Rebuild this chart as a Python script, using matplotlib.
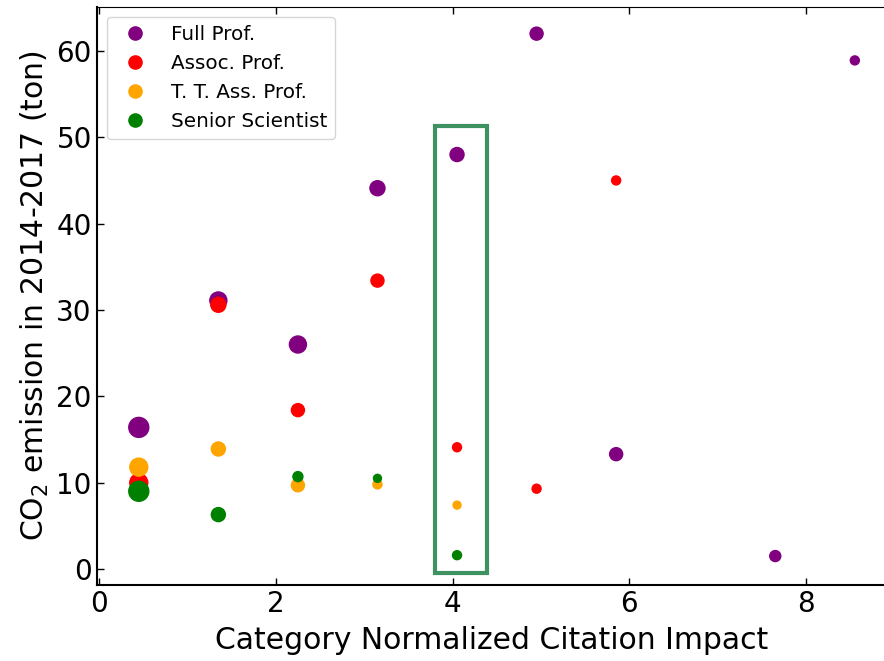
import numpy as np
import matplotlib
matplotlib.use("Agg")
from matplotlib import pyplot as plt
from matplotlib.patches import Rectangle
from matplotlib.lines import Line2D

# CNCI bins (bin centres) and CO2 emission per position
full_x = [0.45, 1.35, 2.25, 3.15, 4.05, 4.95, 5.85, 7.65, 8.55]
full_y = [16.4, 31.1, 26.0, 44.1, 48.0, 62.0, 13.3, 1.5, 58.9]
full_n = [207, 150, 150, 117, 102, 88, 88, 63, 42]

assoc_x = [0.45, 1.35, 2.25, 3.15, 4.05, 4.95, 5.85]
assoc_y = [10.0, 30.6, 18.4, 33.4, 14.1, 9.3, 45.0]
assoc_n = [168, 117, 88, 88, 42, 42, 42]

tt_x = [0.45, 1.35, 2.25, 3.15, 4.05]
tt_y = [11.8, 13.9, 9.7, 9.8, 7.4]
tt_n = [168, 102, 88, 42, 33]

senior_x = [0.45, 1.35, 2.25, 3.15, 4.05]
senior_y = [9.0, 6.3, 10.7, 10.5, 1.6]
senior_n = [207, 102, 52, 33, 42]

labels = ['Full Prof.', 'Assoc. Prof.', 'T. T. Ass. Prof.', 'Senior Scientist']
colors = ['purple', 'red', 'orange', 'green']


def main():
    fig = plt.figure(figsize=(8.84, 6.61), dpi=100)
    ax = fig.add_axes([0.1094, 0.115, 0.8926, 0.8746])

    series = [(full_x, full_y, full_n), (assoc_x, assoc_y, assoc_n),
              (tt_x, tt_y, tt_n), (senior_x, senior_y, senior_n)]
    for (x, y, n), c in zip(series, colors):
        ax.scatter(x, y, s=n, c=c, zorder=3)

    # highlight the CNCI ~ 4 bin
    ax.add_patch(Rectangle((3.80, -0.5), 0.59, 51.8, fill=False,
                           edgecolor='#3E9160', linewidth=3, zorder=4))

    ax.set_xlim(-0.026, 8.90)
    ax.set_ylim(-1.85, 65.1)
    ax.set_xticks([0, 2, 4, 6, 8])
    ax.set_yticks([0, 10, 20, 30, 40, 50, 60])
    ax.tick_params(direction='in', top=True, right=False, length=5, width=1,
                   labelsize=20)
    for side in ['left', 'bottom']:
        ax.spines[side].set_linewidth(1.5)

    ax.set_xlabel('Category Normalized Citation Impact', fontsize=21.5,
                  labelpad=6)
    ax.set_ylabel('CO$_2$ emission in 2014-2017 (ton)', fontsize=21.5,
                  labelpad=4)

    handles = [Line2D([], [], marker='o', linestyle='', markersize=9.5,
                      color=c) for c in colors]
    ax.legend(handles, labels, loc='upper left', fontsize=14.4,
              labelspacing=0.5, handletextpad=0.8, borderaxespad=0.5)

    fig.savefig('out.png', dpi=100)


if __name__ == "__main__":
    main()
